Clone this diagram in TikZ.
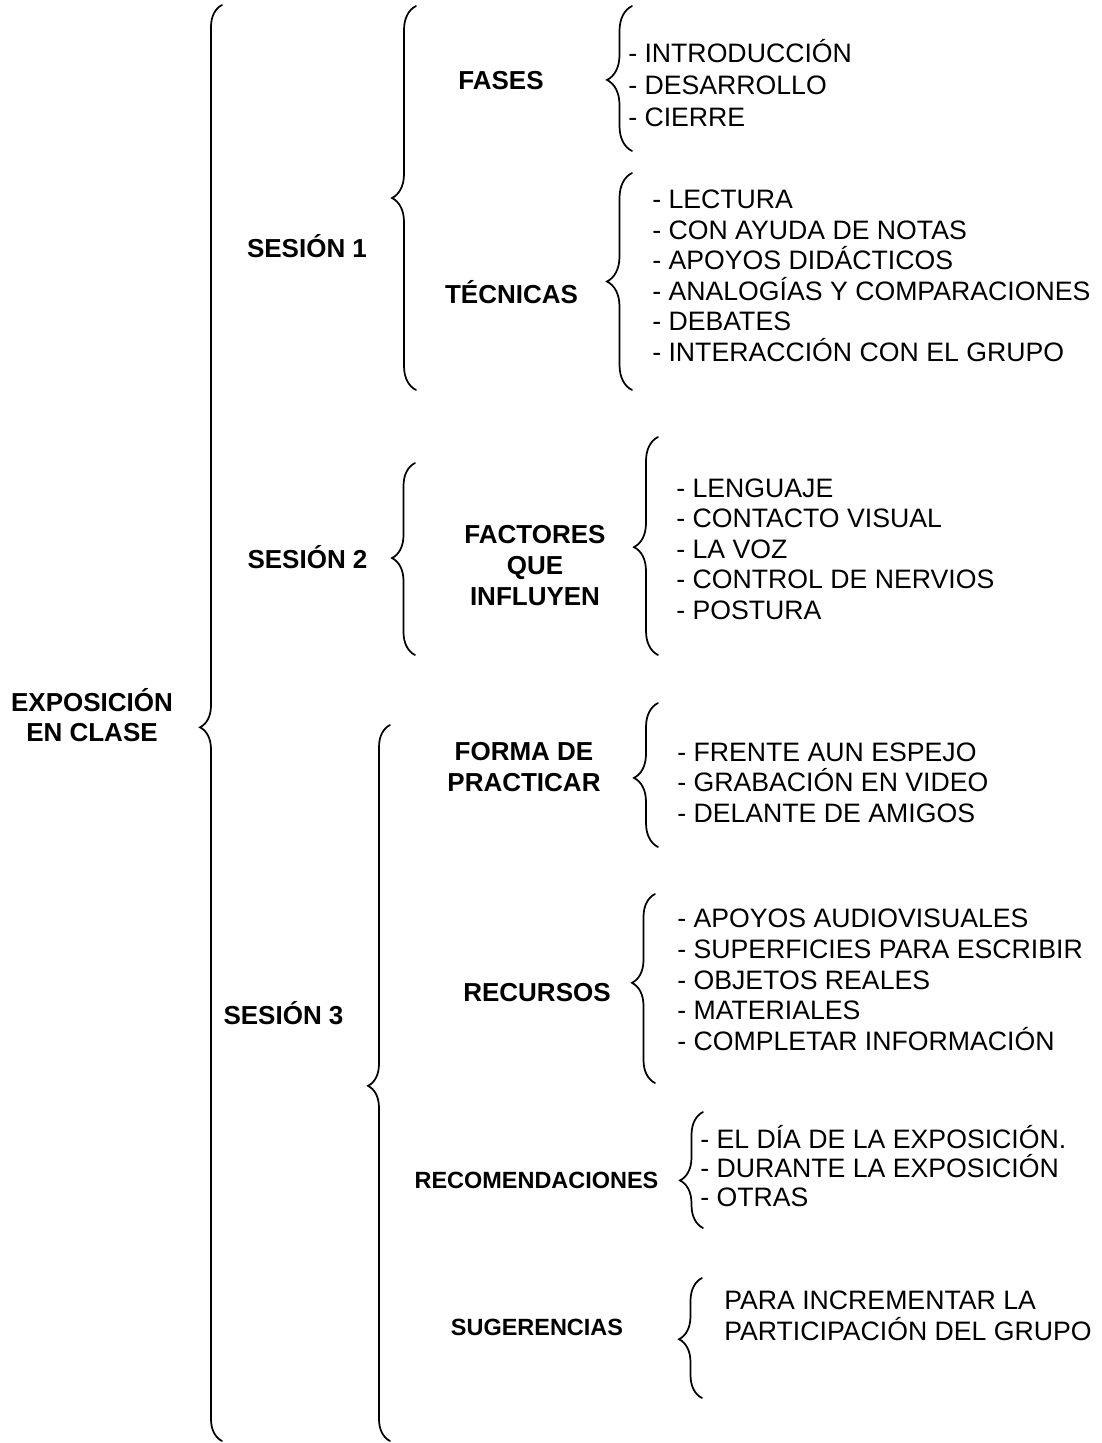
\documentclass[tikz,border=0pt]{standalone}
\usepackage{fontspec}
\setmainfont{Liberation Sans}
\usetikzlibrary{decorations.pathreplacing}

\begin{document}
\begin{tikzpicture}[x=0.75pt, y=-0.75pt,
		titulo/.style={font=\fontsize{19.5}{23}\selectfont\bfseries, align=center, inner sep=0pt},
		sesion/.style={font=\fontsize{19.5}{23}\selectfont\bfseries, inner sep=0pt, anchor=base},
		subtema/.style={font=\fontsize{17.6}{21}\selectfont\bfseries, inner sep=0pt, anchor=base},
		punto/.style={font=\fontsize{20}{23}\selectfont, inner sep=0pt, anchor=base west},
		llave/.style n args={2}{decorate, line width=1.3pt, line cap=round,
			decoration={brace, amplitude=#1, aspect=#2}}
	]
	\useasboundingbox (0,0) rectangle (1102,1443);
	
	% tema principal y sesiones
	\node[titulo, font=\fontsize{19.5}{22.5}\selectfont\bfseries] (expo) at (92,715) {EXPOSICIÓN\\EN CLASE};
	\node[sesion] (ses1) at (307,257) {SESIÓN 1};
	\node[sesion] (ses2) at (307.5,568) {SESIÓN 2};
	\node[sesion] (ses3) at (283.5,1024) {SESIÓN 3};
	
	% subtemas
	\node[sesion] (fases) at (501,89) {FASES};
	\node[sesion] (tecnicas) at (511.5,303) {TÉCNICAS};
	\node[titulo, font=\fontsize{19.5}{23.25}\selectfont\bfseries] (factores) at (535,566) {FACTORES\\QUE\\INFLUYEN};
	\node[titulo, font=\fontsize{19.5}{23.25}\selectfont\bfseries] (forma) at (524,767.5) {FORMA DE\\PRACTICAR};
	\node[sesion] (recursos) at (537,1001) {RECURSOS};
	\node[subtema] (recom) at (536.5,1188.5) {RECOMENDACIONES};
	\node[subtema] (suger) at (537,1335.5) {SUGERENCIAS};
	
	% listas
	\foreach \t [count=\i from 0] in {INTRODUCCIÓN, DESARROLLO, CIERRE}
		\node[punto] (fas\i) at (628,62+32*\i) {- \t};
	\foreach \t [count=\i from 0] in {LECTURA, CON AYUDA DE NOTAS, APOYOS DIDÁCTICOS,
		ANALOGÍAS Y COMPARACIONES, DEBATES, INTERACCIÓN CON EL GRUPO}
		\node[punto] (tec\i) at (652,208.5+30.6*\i) {- \t};
	\foreach \t [count=\i from 0] in {LENGUAJE, CONTACTO VISUAL, LA VOZ, CONTROL DE NERVIOS, POSTURA}
		\node[punto] (fac\i) at (676,497+30.6*\i) {- \t};
	\foreach \t [count=\i from 0] in {FRENTE AUN ESPEJO, GRABACIÓN EN VIDEO, DELANTE DE AMIGOS}
		\node[punto] (for\i) at (677,761+30.7*\i) {- \t};
	\foreach \t [count=\i from 0] in {APOYOS AUDIOVISUALES, SUPERFICIES PARA ESCRIBIR, OBJETOS REALES,
		MATERIALES, COMPLETAR INFORMACIÓN}
		\node[punto] (rec\i) at (677,927.5+30.8*\i) {- \t};
	\foreach \t [count=\i from 0] in {EL DÍA DE LA EXPOSICIÓN., DURANTE LA EXPOSICIÓN, OTRAS}
		\node[punto] (rcm\i) at (700,1148+29*\i) {- \t};
	\node[punto] (sug0) at (724,1309) {PARA INCREMENTAR LA};
	\node[punto] (sug1) at (724,1340) {PARTICIPACIÓN DEL GRUPO};
	
	% llaves
	\coordinate (expoB) at (222,1441);
	\coordinate (expoT) at (222,5);
	\coordinate (ses1B) at (416,390);
	\coordinate (ses1T) at (416,6);
	\coordinate (ses2B) at (415,655);
	\coordinate (ses2T) at (415,463);
	\coordinate (ses3B) at (390,1441);
	\coordinate (ses3T) at (390,725);
	\coordinate (fasB) at (632,151);
	\coordinate (fasT) at (632,6);
	\coordinate (tecB) at (632,390);
	\coordinate (tecT) at (632,173);
	\coordinate (facB) at (658,655);
	\coordinate (facT) at (658,437);
	\coordinate (forB) at (658,847);
	\coordinate (forT) at (658,703);
	\coordinate (recB) at (655,1083);
	\coordinate (recT) at (655,894);
	\coordinate (rcmB) at (703,1228);
	\coordinate (rcmT) at (703,1112);
	\coordinate (sugB) at (702,1398);
	\coordinate (sugT) at (702,1278);
	
	\draw[llave={16.5pt}{0.497}] (expoB) -- (expoT);
	\draw[llave={18pt}{0.5}] (ses1B) -- (ses1T);
	\draw[llave={17.25pt}{0.505}] (ses2B) -- (ses2T);
	\draw[llave={16.5pt}{0.496}] (ses3B) -- (ses3T);
	\draw[llave={18.75pt}{0.49}] (fasB) -- (fasT);
	\draw[llave={18.75pt}{0.5}] (tecB) -- (tecT);
	\draw[llave={18pt}{0.495}] (facB) -- (facT);
	\draw[llave={18pt}{0.48}] (forB) -- (forT);
	\draw[llave={17.25pt}{0.53}] (recB) -- (recT);
	\draw[llave={17.25pt}{0.41}] (rcmB) -- (rcmT);
	\draw[llave={17.25pt}{0.49}] (sugB) -- (sugT);
\end{tikzpicture}
\end{document}
